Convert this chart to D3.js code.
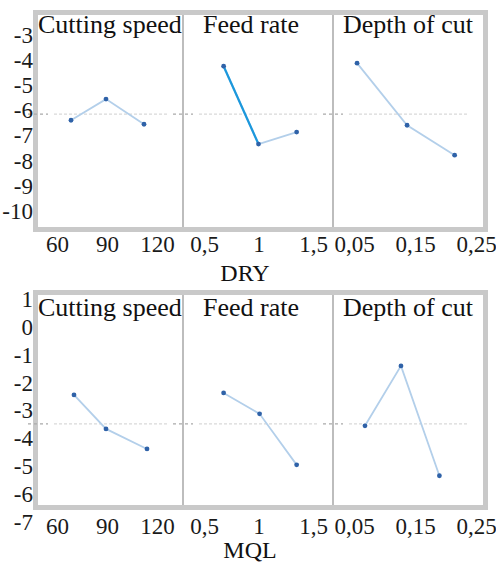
<!DOCTYPE html>
<html>
<head>
<meta charset="utf-8">
<script src="https://cdn.jsdelivr.net/npm/d3@7"></script>
<style>
  body { margin: 0; background: #fff; }
  svg { display: block; }
  .tick text { font-family: "Liberation Serif", "DejaVu Serif", serif; font-size: 23px; fill: #1a1a1a; }
</style>
</head>
<body>
<svg width="496" height="566"></svg>
<script>
// factor names and tick labels
var factors = ["Cutting speed", "Feed rate", "Depth of cut"];
var speedTicks = [60, 90, 120];
var feedTicks = [0.5, 1, 1.5];
var depthTicks = [0.05, 0.15, 0.25];
var dryTicks = [-3, -4, -5, -6, -7, -8, -9, -10];
var mqlTicks = [1, 0, -1, -2, -3, -4, -5, -6, -7];

// DRY main effects
var drySpeedX = [68.4, 89.4, 112.2];
var drySpeedY = [-6.39, -5.55, -6.55];
var dryFeedX  = [0.68, 1.0, 1.35];
var dryFeedY  = [-4.24, -7.34, -6.86];
var dryDepthX = [0.055, 0.137, 0.215];
var dryDepthY = [-4.12, -6.59, -7.78];
var dryMean = -6.15;

// MQL main effects
var mqlSpeedX = [70.2, 89.4, 114];
var mqlSpeedY = [-2.44, -3.66, -4.38];
var mqlFeedX  = [0.68, 1.01, 1.35];
var mqlFeedY  = [-2.37, -3.12, -4.95];
var mqlDepthX = [0.068, 0.127, 0.19];
var mqlDepthY = [-3.55, -1.40, -5.34];
var mqlMean = -3.48;

var svg = d3.select("svg");
var serif = "'Liberation Serif', 'DejaVu Serif', serif";

var fmtX = function(d) { return String(d).replace(".", ","); };
var fmtY = function(d) { return String(d); };   // plain hyphen minus like the original

// x scales per panel (same in both blocks)
var xScales = [
    d3.scaleLinear().domain([60, 120]).range([57, 157]),
    d3.scaleLinear().domain([0.5, 1.5]).range([204, 313]),
    d3.scaleLinear().domain([0.05, 0.25]).range([354, 476])
];
var xTicks = [speedTicks, feedTicks, depthTicks];
var panelEdges = [38, 183, 333, 484];
var titleX = [38, 203, 343];

function drawBlock(cfg) {
    var g = svg.append("g");
    var y = d3.scaleLinear().domain(cfg.yDomain).range(cfg.yRange);

    // frame
    g.append("rect")
        .attr("x", 35.5).attr("y", cfg.top + 2.5)
        .attr("width", 450).attr("height", cfg.bottom - cfg.top - 5)
        .attr("fill", "#fff").attr("stroke", "#c9c9c9").attr("stroke-width", 5);

    // dividers
    [1, 2].forEach(function(i) {
        g.append("line")
            .attr("x1", panelEdges[i]).attr("x2", panelEdges[i])
            .attr("y1", cfg.top + 5).attr("y2", cfg.bottom - 5)
            .attr("stroke", "#bdbdbd").attr("stroke-width", 2);
    });

    // mean line
    var ym = y(cfg.mean);
    for (var i = 0; i < 3; i++) {
        g.append("line")
            .attr("x1", panelEdges[i] + 16).attr("x2", panelEdges[i + 1] - 16)
            .attr("y1", ym).attr("y2", ym)
            .attr("stroke", "#d9d9d9").attr("stroke-width", 1.2)
            .attr("stroke-dasharray", "3,2");
        g.append("line")
            .attr("x1", panelEdges[i] - 10).attr("x2", panelEdges[i] + 10)
            .attr("y1", ym).attr("y2", ym)
            .attr("stroke", "#a9a9a9").attr("stroke-width", 1.2)
            .attr("stroke-dasharray", "3,3");
    }

    // y axis
    g.append("g")
        .attr("transform", "translate(33,0)")
        .call(d3.axisLeft(y).tickValues(cfg.yTicks).tickSize(0).tickPadding(0).tickFormat(fmtY))
        .call(function(a) { a.select(".domain").remove(); });

    // panels
    cfg.series.forEach(function(s, i) {
        var x = xScales[i];
        var pts = s.x.map(function(v, j) { return [x(v), y(s.y[j])]; });

        g.append("path")
            .attr("d", d3.line()(pts))
            .attr("fill", "none").attr("stroke", "#b3cfea").attr("stroke-width", 1.8);

        if (s.highlight) {
            g.append("path")
                .attr("d", d3.line()(pts.slice(0, 2)))
                .attr("fill", "none").attr("stroke", "#1c98dc").attr("stroke-width", 2.2);
        }

        g.selectAll(null).data(pts).enter().append("circle")
            .attr("cx", function(d) { return d[0]; })
            .attr("cy", function(d) { return d[1]; })
            .attr("r", 2.4).attr("fill", "#2f62a8");

        g.append("text")
            .attr("x", titleX[i])
            .attr("y", cfg.titleY)
            .attr("font-family", serif).attr("font-size", 26)
            .attr("fill", "#111")
            .text(factors[i]);

        g.append("g")
            .attr("transform", "translate(0," + (cfg.bottom + cfg.tickGap) + ")")
            .call(d3.axisBottom(x).tickValues(xTicks[i]).tickSize(0).tickPadding(4).tickFormat(fmtX))
            .call(function(a) { a.select(".domain").remove(); });
    });

    g.append("text")
        .attr("x", cfg.labelX).attr("y", cfg.bottom + cfg.labelGap)
        .attr("text-anchor", "middle")
        .attr("font-family", serif).attr("font-size", 24)
        .attr("fill", "#111")
        .text(cfg.label);
}

drawBlock({
    top: 10, bottom: 232, label: "DRY", labelX: 245, titleY: 33, tickGap: 0, labelGap: 49,
    yDomain: [-3, -10], yRange: [35, 211], yTicks: dryTicks, mean: dryMean,
    series: [
        {x: drySpeedX, y: drySpeedY},
        {x: dryFeedX, y: dryFeedY, highlight: true},
        {x: dryDepthX, y: dryDepthY}
    ]
});

drawBlock({
    top: 290, bottom: 510, label: "MQL", labelX: 250, titleY: 316, tickGap: 4, labelGap: 48,
    yDomain: [1, -7], yRange: [299, 522], yTicks: mqlTicks, mean: mqlMean,
    series: [
        {x: mqlSpeedX, y: mqlSpeedY},
        {x: mqlFeedX, y: mqlFeedY},
        {x: mqlDepthX, y: mqlDepthY}
    ]
});
</script>
</body>
</html>
